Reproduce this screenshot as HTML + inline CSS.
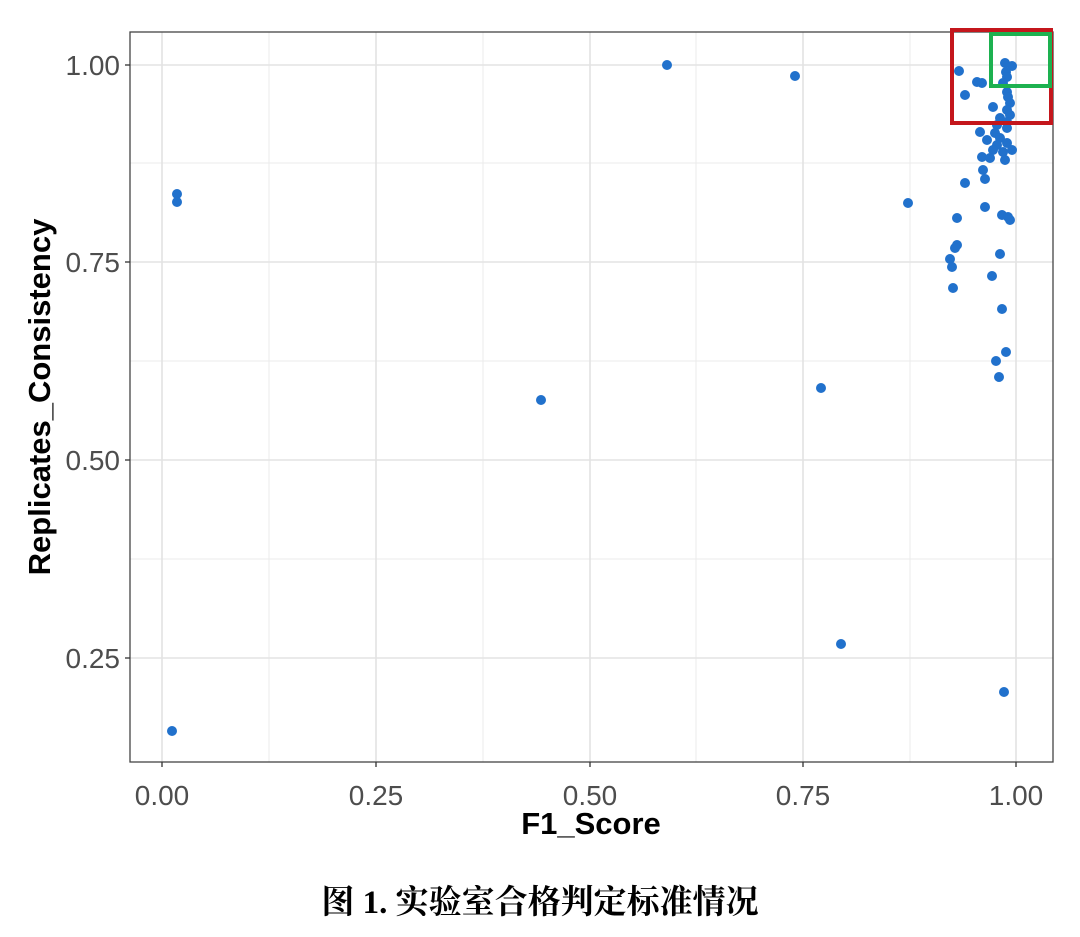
<!DOCTYPE html>
<html><head><meta charset="utf-8"><style>
body{margin:0;background:#fff;width:1080px;height:932px;overflow:hidden}
</style></head><body>
<svg width="1080" height="932" xmlns="http://www.w3.org/2000/svg">
<g stroke="#ebebeb" stroke-width="1">
<line x1="269" y1="32" x2="269" y2="762"/><line x1="483" y1="32" x2="483" y2="762"/><line x1="696" y1="32" x2="696" y2="762"/><line x1="910" y1="32" x2="910" y2="762"/>
<line x1="130" y1="163" x2="1053" y2="163"/><line x1="130" y1="361" x2="1053" y2="361"/><line x1="130" y1="559" x2="1053" y2="559"/>
</g>
<g stroke="#e3e3e3" stroke-width="1.6">
<line x1="162" y1="32" x2="162" y2="762"/><line x1="376" y1="32" x2="376" y2="762"/><line x1="590" y1="32" x2="590" y2="762"/><line x1="803" y1="32" x2="803" y2="762"/><line x1="1016" y1="32" x2="1016" y2="762"/>
<line x1="130" y1="65" x2="1053" y2="65"/><line x1="130" y1="262" x2="1053" y2="262"/><line x1="130" y1="460" x2="1053" y2="460"/><line x1="130" y1="658" x2="1053" y2="658"/>
</g>
<rect x="130" y="32" width="923" height="730" fill="none" stroke="#444" stroke-width="1.3"/>
<g fill="#2171cc">
<circle cx="959" cy="71" r="5"/><circle cx="977" cy="82" r="5"/><circle cx="982" cy="83" r="5"/><circle cx="965" cy="95" r="5"/><circle cx="1005" cy="63" r="5"/><circle cx="1012" cy="66" r="5"/><circle cx="1006" cy="72" r="5"/><circle cx="1007" cy="77" r="5"/><circle cx="1003" cy="83" r="5"/><circle cx="1007" cy="92" r="5"/><circle cx="1008" cy="97" r="5"/><circle cx="1010" cy="103" r="5"/><circle cx="993" cy="107" r="5"/><circle cx="1007" cy="110" r="5"/><circle cx="1010" cy="115" r="5"/><circle cx="1000" cy="118" r="5"/><circle cx="1007" cy="122" r="5"/><circle cx="997" cy="125" r="5"/><circle cx="1007" cy="128" r="5"/><circle cx="980" cy="132" r="5"/><circle cx="995" cy="133" r="5"/><circle cx="1000" cy="138" r="5"/><circle cx="987" cy="140" r="5"/><circle cx="1007" cy="143" r="5"/><circle cx="997" cy="145" r="5"/><circle cx="1012" cy="150" r="5"/><circle cx="1003" cy="152" r="5"/><circle cx="993" cy="150" r="5"/><circle cx="982" cy="157" r="5"/><circle cx="990" cy="158" r="5"/><circle cx="1005" cy="160" r="5"/><circle cx="983" cy="170" r="5"/><circle cx="985" cy="179" r="5"/><circle cx="965" cy="183" r="5"/><circle cx="908" cy="203" r="5"/><circle cx="985" cy="207" r="5"/><circle cx="957" cy="218" r="5"/><circle cx="1002" cy="215" r="5"/><circle cx="1008" cy="217" r="5"/><circle cx="1010" cy="220" r="5"/>
<circle cx="957" cy="245" r="5"/><circle cx="955" cy="248" r="5"/><circle cx="950" cy="259" r="5"/><circle cx="952" cy="267" r="5"/><circle cx="953" cy="288" r="5"/><circle cx="1000" cy="254" r="5"/><circle cx="992" cy="276" r="5"/><circle cx="1002" cy="309" r="5"/><circle cx="1006" cy="352" r="5"/><circle cx="996" cy="361" r="5"/><circle cx="999" cy="377" r="5"/>
<circle cx="177" cy="194" r="5"/><circle cx="177" cy="202" r="5"/><circle cx="172" cy="731" r="5"/><circle cx="541" cy="400" r="5"/><circle cx="667" cy="65" r="5"/><circle cx="795" cy="76" r="5"/><circle cx="821" cy="388" r="5"/><circle cx="841" cy="644" r="5"/><circle cx="1004" cy="692" r="5"/>
</g>
<rect x="952" y="30" width="99" height="93" fill="none" stroke="#c4161c" stroke-width="4"/>
<rect x="991" y="34" width="59" height="52" fill="none" stroke="#1db150" stroke-width="4"/>
<g stroke="#333" stroke-width="1.3">
<line x1="162" y1="762" x2="162" y2="767"/><line x1="376" y1="762" x2="376" y2="767"/><line x1="590" y1="762" x2="590" y2="767"/><line x1="803" y1="762" x2="803" y2="767"/><line x1="1016" y1="762" x2="1016" y2="767"/>
<line x1="125" y1="65" x2="130" y2="65"/><line x1="125" y1="262" x2="130" y2="262"/><line x1="125" y1="460" x2="130" y2="460"/><line x1="125" y1="658" x2="130" y2="658"/>
</g>
<g font-family="Liberation Sans, sans-serif" font-size="28" fill="#4d4d4d">
<g text-anchor="middle"><text x="162" y="805">0.00</text><text x="376" y="805">0.25</text><text x="590" y="805">0.50</text><text x="803" y="805">0.75</text><text x="1016" y="805">1.00</text></g>
<g text-anchor="end"><text x="120" y="75">1.00</text><text x="120" y="272">0.75</text><text x="120" y="470">0.50</text><text x="120" y="668">0.25</text></g>
</g>
<text x="591" y="834" text-anchor="middle" font-family="Liberation Sans, sans-serif" font-size="31" font-weight="bold">F1_Score</text>
<text transform="translate(50,397) rotate(-90)" text-anchor="middle" font-family="Liberation Sans, sans-serif" font-size="31" font-weight="bold">Replicates_Consistency</text>
<text x="540" y="913" text-anchor="middle" font-family="Liberation Serif, 'Noto Serif CJK SC', serif" font-size="33" font-weight="bold">图 1. 实验室合格判定标准情况</text>
</svg>
</body></html>
